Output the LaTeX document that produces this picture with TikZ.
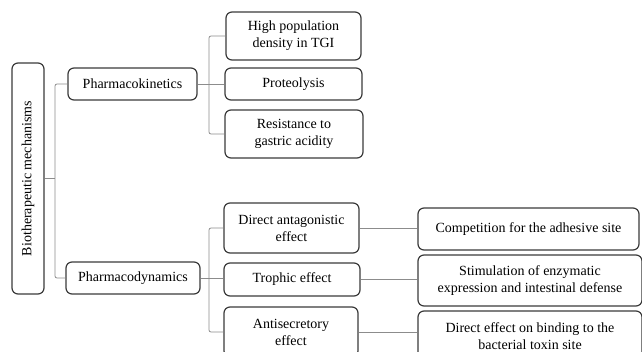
\documentclass[tikz,border=0pt]{standalone}
\usepackage{fontspec}
\setmainfont{Liberation Serif}
\definecolor{boxline}{HTML}{3A3A3A}
\definecolor{linkline}{HTML}{8C8C8C}
\begin{document}
\begin{tikzpicture}[x=1pt,y=-1pt,
  box/.style={draw=boxline, line width=1.2pt, rounded corners=6pt, inner sep=0pt,
    align=center, font=\fontsize{14}{17}\selectfont, text=black},
  link/.style={draw=linkline, line width=0.8pt, rounded corners=2pt}]
\useasboundingbox (0,0) rectangle (642,352);
\clip (0,0) rectangle (642,352);
\node[box, rotate=90, minimum width=231pt, minimum height=32pt] (root) at (28,178.5) {Biotherapeutic mechanisms};
\node[box, minimum width=129pt, minimum height=32pt] (pk) at (132.5,84) {Pharmacokinetics};
\node[box, minimum width=134pt, minimum height=32pt] (pd) at (133,278) {Pharmacodynamics};
\node[box, minimum width=135pt, minimum height=48pt] (hpd) at (293.5,36) {High population\\density in TGI};
\node[box, minimum width=137pt, minimum height=32pt] (prot) at (293.5,84) {Proteolysis};
\node[box, minimum width=138pt, minimum height=48pt] (res) at (294,134) {Resistance to\\gastric acidity};
\node[box, minimum width=135pt, minimum height=50pt] (dae) at (291.5,228) {Direct antagonistic\\effect};
\node[box, minimum width=136pt, minimum height=33pt] (tro) at (292,279.5) {Trophic effect};
\node[box, minimum width=134pt, minimum height=50pt] (ant) at (291,332) {Antisecretory\\effect};
\node[box, minimum width=221pt, minimum height=42pt] (comp) at (528.5,229) {Competition for the adhesive site};
\node[box, minimum width=224pt, minimum height=51pt] (stim) at (530,280.5) {Stimulation of enzymatic\\expression and intestinal defense};
\node[box, minimum width=224pt, minimum height=50pt] (dir) at (530,336) {Direct effect on binding to the\\bacterial toxin site};
% root bracket
\coordinate (rb) at (55,178.5);
\draw[link] (pk.west) -| (rb) |- (pd.west);
\draw[link] (root.south) -- (rb);
% PK bracket
\coordinate (kb) at (209,84);
\draw[link] (hpd.west) -| (kb) |- (res.west);
\draw[link] (pk.east) -- (prot.west);
% PD bracket
\coordinate (db) at (209,278);
\draw[link] (dae.west) -| (db) |- (ant.west);
\draw[link] (pd.east) -- (pd.east -| tro.west);
% right links
\draw[link] (dae.east) -- (dae.east -| comp.west);
\draw[link] (tro.east) -- (tro.east -| stim.west);
\draw[link] (ant.east) -- (ant.east -| dir.west);
\end{tikzpicture}
\end{document}
